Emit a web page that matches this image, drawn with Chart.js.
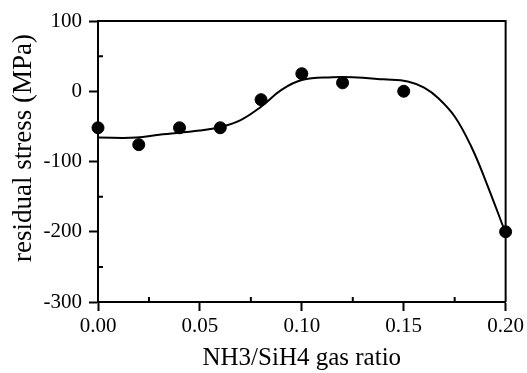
<!DOCTYPE html>
<html>
<head>
<meta charset="utf-8">
<script src="https://cdn.jsdelivr.net/npm/chart.js@4"></script>
<style>
  html, body { margin: 0; padding: 0; background: #fff; }
  #wrap { width: 527px; height: 373px; }
</style>
</head>
<body>
<div id="wrap"><canvas id="stressChart" width="527" height="373"></canvas></div>
<script>
// measured points
var gasRatio = [0.00, 0.02, 0.04, 0.06, 0.08, 0.10, 0.12, 0.15, 0.20];
var stress = [-52, -76, -52, -52, -12, 25, 12, 0, -200];

// fitted curve
var fitRatio = [0, 0.019, 0.03, 0.05, 0.06, 0.07, 0.08, 0.09, 0.1, 0.115, 0.125, 0.14, 0.152,
    0.16, 0.167, 0.175, 0.183, 0.19, 0.2];
var fitStress = [-66, -66, -62, -56, -51, -41, -22, 2, 16, 20, 20, 17, 14,
    5, -10, -36, -78, -126, -202];

var xTicks = [0, 0.05, 0.10, 0.15, 0.20];
var xMinor = [0.025, 0.075, 0.125, 0.175];
var yTicks = [-300, -200, -100, 0, 100];
var yMinor = [-250, -150, -50, 50];

function toXY(xs, ys) {
    return xs.map(function (x, i) { return { x: x, y: ys[i] }; });
}

// box on top/right plus small inside ticks
var framePlugin = {
    id: 'frame',
    afterDraw: function (chart) {
        var ctx = chart.ctx;
        var a = chart.chartArea;
        var xs = chart.scales.x, ys = chart.scales.y;
        ctx.save();
        ctx.strokeStyle = '#000';
        ctx.lineWidth = 2;
        ctx.beginPath();
        ctx.moveTo(a.left, a.top);
        ctx.lineTo(a.right, a.top);
        ctx.lineTo(a.right, a.bottom);
        ctx.stroke();
        ctx.beginPath();
        xMinor.forEach(function (v) {
            var px = xs.getPixelForValue(v);
            ctx.moveTo(px, a.bottom);
            ctx.lineTo(px, a.bottom - 5);
        });
        yMinor.forEach(function (v) {
            var py = ys.getPixelForValue(v);
            ctx.moveTo(a.left, py);
            ctx.lineTo(a.left + 5, py);
        });
        ctx.stroke();
        ctx.restore();
    }
};

var ctx = document.getElementById('stressChart').getContext('2d');
var myChart = new Chart(ctx, {
    type: 'scatter',
    data: {
        datasets: [{
            label: 'measured',
            data: toXY(gasRatio, stress),
            backgroundColor: '#000',
            borderColor: '#000',
            pointRadius: 6,
            pointHoverRadius: 6,
            clip: false,
            order: 0
        }, {
            label: 'fit',
            data: toXY(fitRatio, fitStress),
            showLine: true,
            borderColor: '#000',
            borderWidth: 2,
            pointRadius: 0,
            tension: 0.4,
            order: 1
        }]
    },
    options: {
        responsive: false,
        animation: false,
        layout: { padding: { top: 21, right: 21, left: 0, bottom: 0 } },
        plugins: { legend: { display: false }, tooltip: { enabled: false } },
        scales: {
            x: {
                type: 'linear',
                min: 0,
                max: 0.2,
                afterFit: function (s) { s.height = 71; },
                afterBuildTicks: function (s) { s.ticks = xTicks.map(function (v) { return { value: v }; }); },
                grid: { drawOnChartArea: false, tickLength: 9, tickWidth: 2, color: '#000' },
                border: { color: '#000', width: 2 },
                ticks: {
                    color: '#000',
                    padding: 3,
                    maxRotation: 0,
                    font: { family: 'Liberation Serif', size: 21 },
                    callback: function (v) { return Number(v).toFixed(2); }
                },
                title: {
                    display: true,
                    text: 'NH3/SiH4 gas ratio',
                    color: '#000',
                    font: { family: 'Liberation Serif', size: 25 },
                    padding: { top: 0, bottom: 0 }
                }
            },
            y: {
                min: -300,
                max: 100,
                afterFit: function (s) { s.width = 98; },
                afterBuildTicks: function (s) { s.ticks = yTicks.map(function (v) { return { value: v }; }); },
                grid: { drawOnChartArea: false, tickLength: 9, tickWidth: 2, color: '#000' },
                border: { color: '#000', width: 2 },
                ticks: {
                    color: '#000',
                    padding: 7,
                    font: { family: 'Liberation Serif', size: 21 },
                    callback: function (v) { return String(v); }
                },
                title: {
                    display: true,
                    text: '    residual stress (MPa)',
                    color: '#000',
                    font: { family: 'Liberation Serif', size: 27 },
                    padding: { top: 8, bottom: 0 }
                }
            }
        }
    },
    plugins: [framePlugin]
});
</script>
</body>
</html>
